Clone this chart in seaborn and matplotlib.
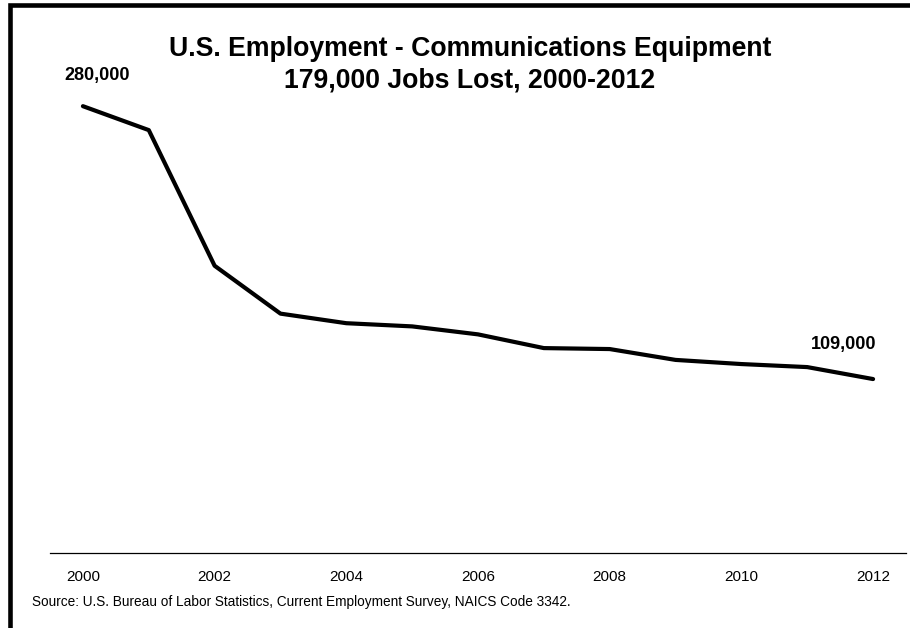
import pandas as pd
import seaborn as sns
import matplotlib.pyplot as plt
from matplotlib.patches import Rectangle

# Employment, thousands of jobs
years = [2000, 2001, 2002, 2003, 2004, 2005, 2006, 2007, 2008, 2009, 2010, 2011, 2012]
jobs = [280, 265, 180, 150, 144, 142, 137, 128.4, 127.8, 121, 118.4, 116.5, 109]
tick_years = [2000, 2002, 2004, 2006, 2008, 2010, 2012]

title = "U.S. Employment - Communications Equipment\n179,000 Jobs Lost, 2000-2012"
source = "Source: U.S. Bureau of Labor Statistics, Current Employment Survey, NAICS Code 3342."

df = pd.DataFrame({"Year": years, "Jobs": jobs})

sns.set_style("white")
plt.rcParams['font.family'] = ['Liberation Sans', 'DejaVu Sans']
plt.rcParams['text.color'] = 'black'

fig = plt.figure(figsize=(9.1, 6.28), dpi=100)
ax = fig.add_axes([50 / 910, 1 - 553 / 628, 856 / 910, 533 / 628])

sns.lineplot(data=df, x="Year", y="Jobs", ax=ax, color="black", linewidth=3.0)

ax.set_xlim(1999.5, 2012.5)
ax.set_ylim(0, 334)
ax.set_xticks(tick_years)
ax.set_xticklabels([str(y) for y in tick_years], fontsize=11)
ax.set_yticks([])
ax.set_xlabel("")
ax.set_ylabel("")
ax.tick_params(axis='x', length=0, pad=12, colors='black')
for s in ["left", "top", "right"]:
    ax.spines[s].set_visible(False)
ax.spines["bottom"].set_color("black")
ax.spines["bottom"].set_linewidth(0.9)

# end point labels
ax.annotate(f"{int(jobs[0] * 1000):,}", xy=(years[0], jobs[0]), xytext=(10, 22),
            textcoords="offset points", ha="center", va="center",
            fontsize=13, fontweight="bold", color="black")
ax.annotate(f"{int(jobs[-1] * 1000):,}", xy=(years[-1], jobs[-1]), xytext=(-21, 25),
            textcoords="offset points", ha="center", va="center",
            fontsize=13, fontweight="bold", color="black")

fig.text(470 / 910, 1 - 64.5 / 628, title, ha="center", va="center",
         fontsize=19.2, fontweight="bold", linespacing=1.25, color="black")
fig.text(32 / 910, 1 - 602 / 628, source, ha="left", va="center", fontsize=9.8,
         color="black")

# heavy frame (only top and left edges fall inside the image)
fig.add_artist(Rectangle((9.5 / 910, -0.5), 2, 0.992 + 0.5, transform=fig.transFigure,
                         fill=False, edgecolor="black", linewidth=3.3, clip_on=False))

fig.savefig("out.png", dpi=100)
